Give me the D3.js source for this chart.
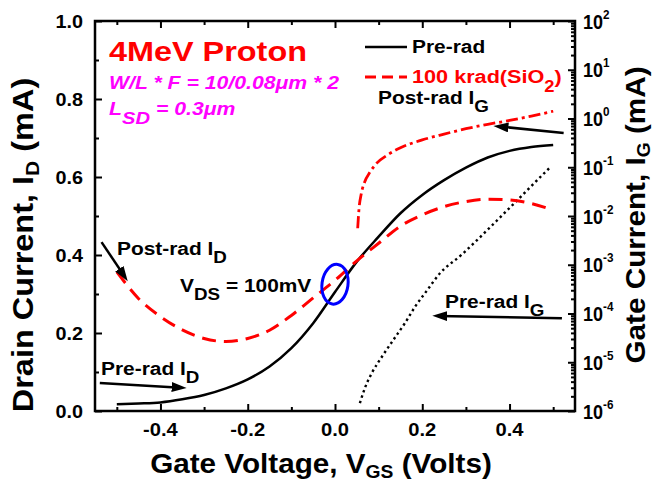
<!DOCTYPE html>
<html>
<head>
<meta charset="utf-8">
<script src="https://cdn.jsdelivr.net/npm/d3@7"></script>
<style>
  html, body { margin: 0; padding: 0; background: #fff; }
  svg { display: block; }
  text { font-family: "Liberation Sans", Arial, Helvetica, sans-serif; font-weight: bold; }
</style>
</head>
<body>
<svg id="chart" width="657" height="481"></svg>
<script>
// Drain current sweep, V_DS = 100 mV (gate voltage in V, current in mA)
const vgsDrain = [-0.5, -0.45, -0.4, -0.35, -0.3, -0.25, -0.2, -0.15, -0.1, -0.05, 0,
                  0.05, 0.1, 0.15, 0.2, 0.25, 0.3, 0.35, 0.4, 0.45, 0.5];
const idPreRad = [0.017, 0.019, 0.022, 0.030, 0.041, 0.058, 0.081, 0.114, 0.161, 0.225, 0.305,
                  0.383, 0.447, 0.507, 0.554, 0.592, 0.624, 0.650, 0.667, 0.677, 0.682];
const idPostRad = [0.357, 0.288, 0.242, 0.208, 0.186, 0.178, 0.186, 0.207, 0.245, 0.290, 0.335,
                   0.385, 0.430, 0.474, 0.503, 0.524, 0.537, 0.543, 0.541, 0.532, 0.515];

// Gate leakage current (mA), log axis on the right
const vgsGatePre = [0.057, 0.07, 0.084, 0.11, 0.134, 0.16, 0.184, 0.21, 0.24, 0.29, 0.33, 0.37, 0.414, 0.464, 0.494];
const igPreRad = [1.45e-6, 3.2e-6, 5.9e-6, 1.4e-5, 2.9e-5, 6.3e-5, 1.4e-4, 2.9e-4, 6.6e-4, 1.6e-3, 3.5e-3, 7.9e-3, 1.95e-2, 5.5e-2, 0.102];
const vgsGatePost = [0.052, 0.055, 0.06, 0.068, 0.08, 0.095, 0.12, 0.15, 0.2, 0.25, 0.3, 0.35, 0.4, 0.45, 0.5];
const igPostRad = [0.0056, 0.014, 0.028, 0.050, 0.079, 0.12, 0.178, 0.251, 0.363, 0.479, 0.617, 0.759, 0.912, 1.12, 1.41];

// Tick values and labels
const xMajorTicks = [-0.4, -0.2, 0, 0.2, 0.4];
const xTickLabels = ["-0.4", "-0.2", "0.0", "0.2", "0.4"];
const xMinorTicks = [-0.5, -0.3, -0.1, 0.1, 0.3, 0.5];
const idMajorTicks = [0, 0.2, 0.4, 0.6, 0.8, 1.0];
const idTickLabels = ["0.0", "0.2", "0.4", "0.6", "0.8", "1.0"];
const idMinorTicks = [0.1, 0.3, 0.5, 0.7, 0.9];
const igExponents = [-6, -5, -4, -3, -2, -1, 0, 1, 2];

const RED = "#ff0000", MAGENTA = "#ff00ff", BLUE = "#0000ff";

const svg = d3.select("#chart");
const plot = { left: 95, right: 575, top: 21, bottom: 411 };

const x = d3.scaleLinear().domain([-0.55, 0.55]).range([plot.left, plot.right]);
const yId = d3.scaleLinear().domain([0, 1]).range([plot.bottom, plot.top]);
const yIg = d3.scaleLog().domain([1e-6, 1e2]).range([plot.bottom, plot.top]);

// ---------- text helper: bold labels with sub/superscripts ----------
function drawText(parent, cfg) {
  const t = parent.append("text")
    .attr("transform", `translate(${cfg.x},${cfg.y})` +
      (cfg.rotate ? ` rotate(${cfg.rotate})` : "") + ` scale(${cfg.k ?? 1},1)`)
    .attr("text-anchor", cfg.anchor || "start")
    .attr("fill", cfg.fill || "#000")
    .style("font-size", cfg.size + "px");
  if (cfg.italic) t.style("font-style", "italic");
  let shift = 0;
  cfg.parts.forEach(p => {
    const part = typeof p === "string" ? { t: p } : p;
    let target = 0, sz = cfg.size;
    if (part.sub) { target = cfg.size * (cfg.subShift ?? 0.4); sz = cfg.size * (cfg.subScale ?? 0.9); }
    if (part.sup) { target = -(cfg.supShift ?? 10); sz = cfg.supSize ?? 13; }
    t.append("tspan").attr("dy", target - shift).style("font-size", sz + "px").text(part.t);
    shift = target;
  });
  return t;
}

// ---------- axes (ticks point inward) ----------
const tickStyle = g => {
  g.select(".domain").remove();
  g.selectAll(".tick line").attr("stroke", "#000").attr("stroke-width", 2);
};
const bottomMajor = d3.axisBottom(x).tickValues(xMajorTicks).tickSizeInner(-7).tickSizeOuter(0).tickFormat("");
const bottomMinor = d3.axisBottom(x).tickValues(xMinorTicks).tickSizeInner(-4).tickSizeOuter(0).tickFormat("");
const topMajor = d3.axisTop(x).tickValues(xMajorTicks).tickSizeInner(-7).tickSizeOuter(0).tickFormat("");
const topMinor = d3.axisTop(x).tickValues(xMinorTicks).tickSizeInner(-4).tickSizeOuter(0).tickFormat("");
const leftMajor = d3.axisLeft(yId).tickValues(idMajorTicks).tickSizeInner(-7).tickSizeOuter(0).tickFormat("");
const leftMinor = d3.axisLeft(yId).tickValues(idMinorTicks).tickSizeInner(-4).tickSizeOuter(0).tickFormat("");
const igMajor = igExponents.map(e => Math.pow(10, e));
const igMinor = [];
igExponents.slice(0, -1).forEach(e => { for (let m = 2; m <= 9; m++) igMinor.push(m * Math.pow(10, e)); });
const rightMajor = d3.axisRight(yIg).tickValues(igMajor).tickSizeInner(-7).tickSizeOuter(0).tickFormat("");
const rightMinor = d3.axisRight(yIg).tickValues(igMinor).tickSizeInner(-4).tickSizeOuter(0).tickFormat("");

svg.append("g").attr("transform", `translate(0,${plot.bottom})`).call(bottomMajor).call(tickStyle);
svg.append("g").attr("transform", `translate(0,${plot.bottom})`).call(bottomMinor).call(tickStyle);
svg.append("g").attr("transform", `translate(0,${plot.top})`).call(topMajor).call(tickStyle);
svg.append("g").attr("transform", `translate(0,${plot.top})`).call(topMinor).call(tickStyle);
svg.append("g").attr("transform", `translate(${plot.left},0)`).call(leftMajor).call(tickStyle);
svg.append("g").attr("transform", `translate(${plot.left},0)`).call(leftMinor).call(tickStyle);
svg.append("g").attr("transform", `translate(${plot.right},0)`).call(rightMajor).call(tickStyle);
svg.append("g").attr("transform", `translate(${plot.right},0)`).call(rightMinor).call(tickStyle);

// plot frame
svg.append("rect")
  .attr("x", plot.left).attr("y", plot.top)
  .attr("width", plot.right - plot.left).attr("height", plot.bottom - plot.top)
  .attr("fill", "none").attr("stroke", "#000").attr("stroke-width", 2.5);

// tick labels
const labels = svg.append("g");
xMajorTicks.forEach((v, i) => drawText(labels, { x: x(v), y: 436, anchor: "middle", size: 18, k: 1.12, parts: [xTickLabels[i]] }));
idMajorTicks.forEach((v, i) => drawText(labels, { x: 83, y: yId(v) + 6.5, anchor: "end", size: 18, k: 1.1, parts: [idTickLabels[i]] }));
igExponents.forEach(e => drawText(labels, {
  x: 583, y: yIg(Math.pow(10, e)) + 7.5, size: 20, k: 0.9, supSize: 13, supShift: 10,
  parts: ["10", { t: String(e), sup: true }]
}));

// axis titles
drawText(labels, { x: 33, y: 245, rotate: -90, anchor: "middle", size: 29, k: 1.12, subScale: 0.65, subShift: 0.22,
  parts: ["Drain Current, I", { t: "D", sub: true }, " (mA)"] });
drawText(labels, { x: 645, y: 215, rotate: -90, anchor: "middle", size: 27, k: 1.1, subScale: 0.65, subShift: 0.2,
  parts: ["Gate Current, I", { t: "G", sub: true }, " (mA)"] });
drawText(labels, { x: 321, y: 473, anchor: "middle", size: 28, k: 1.06, subScale: 0.65, subShift: 0.18,
  parts: ["Gate Voltage, V", { t: "GS", sub: true }, " (Volts)"] });

// ---------- curves ----------
const curves = svg.append("g");
const lineId = d3.line().x(d => x(d[0])).y(d => yId(d[1])).curve(d3.curveMonotoneX);
const lineIg = d3.line().x(d => x(d[0])).y(d => yIg(d[1])).curve(d3.curveMonotoneX);

curves.append("path")
  .attr("d", lineIg(d3.zip(vgsGatePre, igPreRad)))
  .attr("fill", "none").attr("stroke", "#000").attr("stroke-width", 2.4)
  .attr("stroke-dasharray", "2.4,3.2");
curves.append("path")
  .attr("d", lineId(d3.zip(vgsDrain, idPreRad)))
  .attr("fill", "none").attr("stroke", "#000").attr("stroke-width", 2.5);
curves.append("path")
  .attr("d", lineId(d3.zip(vgsDrain, idPostRad)))
  .attr("fill", "none").attr("stroke", RED).attr("stroke-width", 3)
  .attr("stroke-dasharray", "14,8");
curves.append("path")
  .attr("d", lineIg(d3.zip(vgsGatePost, igPostRad)))
  .attr("fill", "none").attr("stroke", RED).attr("stroke-width", 2.8)
  .attr("stroke-dasharray", "12,4,3,4");

// circled crossover region at V_GS = 0
svg.append("ellipse")
  .attr("cx", x(0)).attr("cy", yId(0.325)).attr("rx", 13).attr("ry", 20)
  .attr("transform", `rotate(8,${x(0)},${yId(0.325)})`)
  .attr("fill", "none").attr("stroke", BLUE).attr("stroke-width", 3);

// ---------- arrows ----------
svg.append("defs").append("marker")
  .attr("id", "head").attr("markerUnits", "userSpaceOnUse")
  .attr("markerWidth", 16).attr("markerHeight", 11)
  .attr("refX", 15).attr("refY", 5).attr("orient", "auto")
  .append("path").attr("d", "M0,0 L15,5 L0,10 Z").attr("fill", "#000");

function arrow(x1, y1, x2, y2) {
  const dx = x2 - x1, dy = y2 - y1, len = Math.hypot(dx, dy);
  const ex = x2 - dx / len * 6, ey = y2 - dy / len * 6;
  svg.append("path")
    .attr("d", `M${x1},${y1}L${ex},${ey}`)
    .attr("stroke", "#000").attr("stroke-width", 2.5).attr("fill", "none");
  svg.append("path")
    .attr("d", `M${ex},${ey}L${x2},${y2}`)
    .attr("stroke", "none").attr("marker-end", "url(#head)");
}
arrow(x(0.524), yId(0.713), x(0.363), yId(0.731));   // Post-rad I_G
arrow(x(0.52), yId(0.238), x(0.223), yId(0.244));    // Pre-rad I_G
arrow(x(-0.535), yId(0.433), x(-0.475), yId(0.333)); // Post-rad I_D
arrow(x(-0.539), yId(0.072), x(-0.34), yId(0.059));  // Pre-rad I_D

// ---------- annotations ----------
const notes = svg.append("g");
drawText(notes, { x: 109, y: 61, size: 27, k: 1.2, fill: RED, parts: ["4MeV Proton"] });
drawText(notes, { x: 109, y: 89, size: 18, k: 1.18, fill: MAGENTA, italic: true,
  parts: ["W/L * F = 10/0.08μm * 2"] });
drawText(notes, { x: 109, y: 115, size: 18, k: 1.18, fill: MAGENTA, italic: true, subScale: 0.95, subShift: 0.5,
  parts: ["L", { t: "SD", sub: true }, " = 0.3μm"] });

drawText(notes, { x: 378, y: 104, size: 19, k: 1.1, parts: ["Post-rad I", { t: "G", sub: true }] });
drawText(notes, { x: 117, y: 255, size: 19, k: 1.1, parts: ["Post-rad I", { t: "D", sub: true }] });
drawText(notes, { x: 180, y: 292, size: 19, k: 1.1, parts: ["V", { t: "DS", sub: true }, " = 100mV"] });
drawText(notes, { x: 101, y: 375, size: 19, k: 1.1, parts: ["Pre-rad I", { t: "D", sub: true }] });
drawText(notes, { x: 445, y: 308, size: 19, k: 1.1, parts: ["Pre-rad I", { t: "G", sub: true }] });

// ---------- legend ----------
const legend = svg.append("g");
legend.append("line").attr("x1", 365).attr("x2", 407).attr("y1", 47).attr("y2", 47)
  .attr("stroke", "#000").attr("stroke-width", 2.5);
drawText(legend, { x: 412, y: 53, size: 19, k: 1.1, parts: ["Pre-rad"] });
legend.append("line").attr("x1", 365).attr("x2", 407).attr("y1", 77).attr("y2", 77)
  .attr("stroke", RED).attr("stroke-width", 3).attr("stroke-dasharray", "11,6");
drawText(legend, { x: 412, y: 83, size: 19, k: 1.14, fill: RED, subShift: 0.45, subScale: 0.85,
  parts: ["100 krad(SiO", { t: "2", sub: true }, ")"] });
</script>
</body>
</html>
